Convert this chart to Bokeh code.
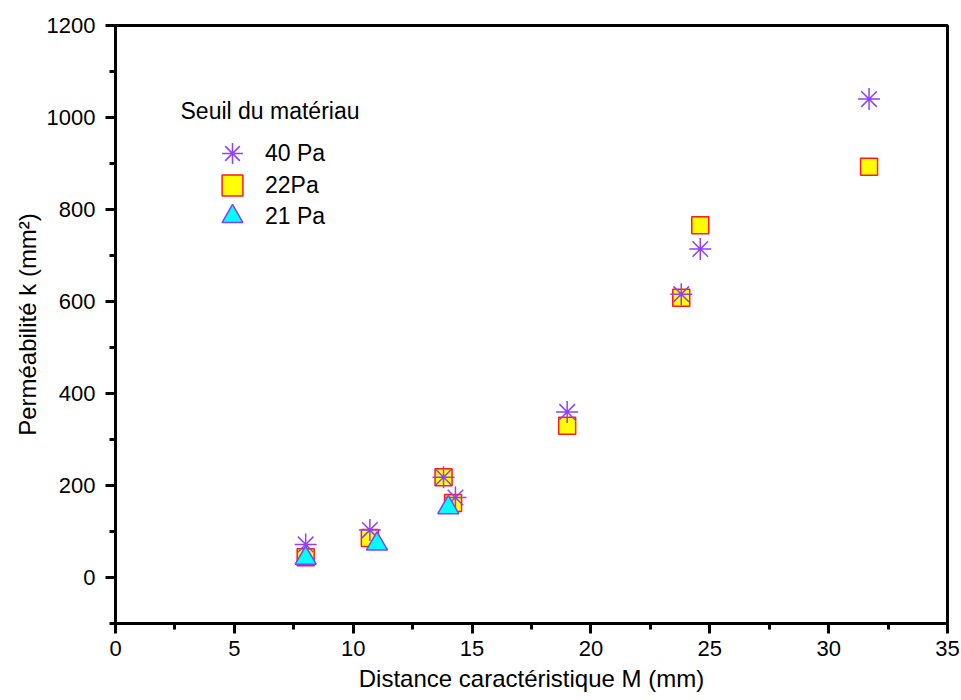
from bokeh.plotting import figure
from bokeh.models import FixedTicker, Legend, LegendItem, Label, Range1d
from bokeh.embed import file_html
from bokeh.resources import INLINE

# data
x_40 = [8.0, 10.7, 13.8, 14.3, 19.0, 23.8, 24.6, 31.7]
y_40 = [72, 103, 218, 174, 360, 616, 714, 1040]
x_22 = [8.0, 10.7, 13.8, 14.2, 19.0, 23.8, 24.6, 31.7]
y_22 = [44, 86, 218, 162, 330, 608, 766, 893]
x_21 = [8.0, 11.0, 14.0]
y_21 = [42, 73, 152]

x_ticks = [0, 5, 10, 15, 20, 25, 30, 35]
x_minor = [2.5, 7.5, 12.5, 17.5, 22.5, 27.5, 32.5]
y_ticks = [0, 200, 400, 600, 800, 1000, 1200]
y_minor = [-100, 100, 300, 500, 700, 900, 1100]
legend_labels = ["40 Pa", "22Pa", "21 Pa"]
legend_title = "Seuil du matériau"

FONT = "Liberation Sans"

p = figure(width=961, height=700, output_backend="svg", toolbar_location=None,
           x_range=Range1d(0, 35), y_range=Range1d(-100, 1200),
           min_border_left=115, min_border_right=14, min_border_top=25,
           min_border_bottom=77)
p.xgrid.visible = False
p.ygrid.visible = False
p.outline_line_color = "black"
p.outline_line_width = 3
p.background_fill_color = "white"
p.border_fill_color = "white"

p.xaxis.ticker = FixedTicker(ticks=x_ticks, minor_ticks=x_minor)
p.yaxis.ticker = FixedTicker(ticks=y_ticks, minor_ticks=y_minor)
for ax in (p.xaxis[0], p.yaxis[0]):
    ax.axis_line_width = 3
    ax.axis_line_color = "black"
    ax.major_tick_line_width = 3
    ax.minor_tick_line_width = 3
    ax.major_tick_in = 0
    ax.major_tick_out = 10
    ax.minor_tick_in = 0
    ax.minor_tick_out = 6
    ax.major_label_text_font = FONT
    ax.major_label_text_font_size = "22px"
    ax.major_label_text_color = "black"
    ax.axis_label_text_font = FONT
    ax.axis_label_text_font_size = "24px"
    ax.axis_label_text_font_style = "normal"
    ax.axis_label_text_color = "black"
p.xaxis.axis_label = "Distance caractéristique M (mm)"
p.yaxis.axis_label = "Perméabilité k (mm²)"
p.xaxis.major_label_standoff = 7
p.yaxis.major_label_standoff = 10
p.xaxis.axis_label_standoff = 6
p.yaxis.axis_label_standoff = 3

r22 = p.scatter(x_22, y_22, marker="square", size=17, fill_color="#ffff00",
                line_color="#ff1a1a", line_width=1.5)
r40 = p.scatter(x_40, y_40, marker="asterisk", size=22, line_color="#9040ff",
                line_width=1.5)
r21 = p.scatter(x_21, y_21, marker="triangle", size=21, fill_color="#00ffff",
                line_color="#8040ff", line_width=1.5)

# one legend per entry so the rows sit close together with large markers
for lab, rend, ybot in zip(legend_labels, [r40, r22, r21], [444, 412, 381]):
    lg = Legend(items=[LegendItem(label=lab, renderers=[rend])],
                location=(91, ybot), padding=0, margin=0, spacing=0,
                glyph_width=52, glyph_height=52, label_height=26,
                label_standoff=7, border_line_color=None,
                background_fill_alpha=0,
                label_text_font=FONT, label_text_font_size="23px",
                label_text_color="black")
    p.add_layout(lg)

p.add_layout(Label(x=65, y=513, x_units="screen", y_units="screen",
                   text=legend_title, text_font=FONT,
                   text_font_size="23px", text_baseline="middle",
                   text_color="black"))

open("out.html", "w").write(file_html(p, INLINE))
